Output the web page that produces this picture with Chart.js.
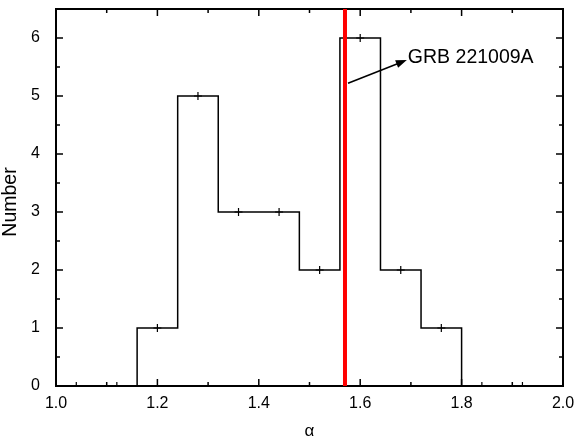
<!DOCTYPE html>
<html>
<head>
<meta charset="utf-8">
<script src="https://cdn.jsdelivr.net/npm/chart.js@4.4.1/dist/chart.umd.min.js"></script>
<style>
  html, body { margin: 0; padding: 0; background: #fff; }
</style>
</head>
<body>
<canvas id="histChart" width="575" height="442"></canvas>
<script>
// histogram of alpha, bin width 0.08
const binCenters = [1.04, 1.12, 1.20, 1.28, 1.36, 1.44, 1.52, 1.60, 1.68, 1.76, 1.84, 1.92];
const counts = [0, 0, 1, 5, 3, 3, 2, 6, 2, 1, 0, 0];
const xTickValues = [1.0, 1.2, 1.4, 1.6, 1.8, 2.0];
const yTickValues = [0, 1, 2, 3, 4, 5, 6];

// GRB 221009A marker
const grbAlpha = 1.57;
const grbLabel = "GRB 221009A";
const arrowFrom = { x: 1.576, y: 5.22 };
const arrowTo = { x: 1.692, y: 5.62 };
const labelAt = { x: 1.694, y: 5.57 };
const yTitle = "Number";

const FONT = "'Liberation Sans', Arial, sans-serif";

// frame + inward ticks on all four sides, arrow and labels
const framePlugin = {
  id: "frame",
  beforeDatasetsDraw(chart) {
    const { ctx, chartArea: a, scales } = chart;
    const xs = scales.x, ys = scales.y;
    ctx.save();
    ctx.strokeStyle = "#000";
    ctx.lineWidth = 1.5;
    ctx.beginPath();
    for (let v = 1.0; v <= 2.0001; v += 0.1) {
      const px = xs.getPixelForValue(v);
      const major = Math.round(v * 10) % 2 === 0;
      const len = major ? 7 : 4;
      ctx.moveTo(px, a.bottom); ctx.lineTo(px, a.bottom - len);
      ctx.moveTo(px, a.top); ctx.lineTo(px, a.top + len);
    }
    for (let v = 0; v <= 6.5001; v += 0.5) {
      const py = ys.getPixelForValue(v);
      const major = Math.round(v * 2) % 2 === 0;
      const len = major ? 7 : 4;
      ctx.moveTo(a.left, py); ctx.lineTo(a.left + len, py);
      ctx.moveTo(a.right, py); ctx.lineTo(a.right - len, py);
    }
    ctx.stroke();
    ctx.lineWidth = 2;
    ctx.strokeRect(a.left, a.top, a.right - a.left, a.bottom - a.top);
    ctx.restore();
  },
  afterDraw(chart) {
    const { ctx, scales } = chart;
    const xs = scales.x, ys = scales.y;
    const x0 = xs.getPixelForValue(arrowFrom.x), y0 = ys.getPixelForValue(arrowFrom.y);
    const x1 = xs.getPixelForValue(arrowTo.x), y1 = ys.getPixelForValue(arrowTo.y);
    const ang = Math.atan2(y1 - y0, x1 - x0);
    ctx.save();
    ctx.strokeStyle = "#000";
    ctx.fillStyle = "#000";
    ctx.lineWidth = 1.5;
    ctx.beginPath();
    ctx.moveTo(x0, y0);
    ctx.lineTo(x1 - 8 * Math.cos(ang), y1 - 8 * Math.sin(ang));
    ctx.stroke();
    ctx.beginPath();
    ctx.moveTo(x1, y1);
    ctx.lineTo(x1 - 11 * Math.cos(ang) + 4 * Math.sin(ang), y1 - 11 * Math.sin(ang) - 4 * Math.cos(ang));
    ctx.lineTo(x1 - 11 * Math.cos(ang) - 4 * Math.sin(ang), y1 - 11 * Math.sin(ang) + 4 * Math.cos(ang));
    ctx.closePath();
    ctx.fill();
    ctx.font = "19.5px " + FONT;
    ctx.textAlign = "left";
    ctx.textBaseline = "alphabetic";
    ctx.fillText(grbLabel, xs.getPixelForValue(labelAt.x), ys.getPixelForValue(labelAt.y));
    // y axis title, sits a little below the centre of the plot
    ctx.translate(11, 202);
    ctx.rotate(-Math.PI / 2);
    ctx.textAlign = "center";
    ctx.textBaseline = "middle";
    ctx.fillText(yTitle, 0, 0);
    ctx.restore();
  }
};

const ctx = document.getElementById("histChart").getContext("2d");
new Chart(ctx, {
  type: "line",
  data: {
    datasets: [
      {
        label: "GRB 221009A",
        data: [{ x: grbAlpha, y: 0 }, { x: grbAlpha, y: 6.5 }],
        borderColor: "#ff0000",
        borderWidth: 4,
        pointRadius: 0,
        order: 0,
      },
      {
        label: "alpha",
        data: binCenters.map((x, i) => ({ x: x, y: counts[i] })),
        borderColor: "#000",
        borderWidth: 1.5,
        stepped: "middle",
        pointStyle: "cross",
        pointRadius: 4,
        pointBorderColor: "#000",
        pointBorderWidth: 1.2,
        order: 1,
      },
    ],
  },
  options: {
    responsive: false,
    animation: false,
    layout: { padding: { left: 0, top: 9, right: 12, bottom: 0 } },
    plugins: { legend: { display: false }, tooltip: { enabled: false } },
    scales: {
      x: {
        type: "linear",
        min: 1.0,
        max: 2.0,
        afterFit: (s) => { s.height = 56; s.paddingLeft = 0; s.paddingRight = 0; },
        afterBuildTicks: (s) => { s.ticks = xTickValues.map((v) => ({ value: v })); },
        grid: { display: false },
        border: { display: false },
        ticks: {
          callback: (v) => Number(v).toFixed(1),
          font: { family: FONT, size: 16 },
          color: "#000",
          padding: 0,
          maxRotation: 0,
        },
        title: {
          display: true,
          text: "α",
          font: { family: FONT, size: 17 },
          color: "#000",
          padding: { top: 1, bottom: 0 },
        },
      },
      y: {
        min: 0,
        max: 6.5,
        afterFit: (s) => { s.width = 56; s.paddingTop = 0; s.paddingBottom = 0; },
        afterBuildTicks: (s) => { s.ticks = yTickValues.map((v) => ({ value: v })); },
        grid: { display: false },
        border: { display: false },
        ticks: {
          font: { family: FONT, size: 16 },
          color: "#000",
          padding: 8,
        },
      },
    },
  },
  plugins: [framePlugin],
});
</script>
</body>
</html>
